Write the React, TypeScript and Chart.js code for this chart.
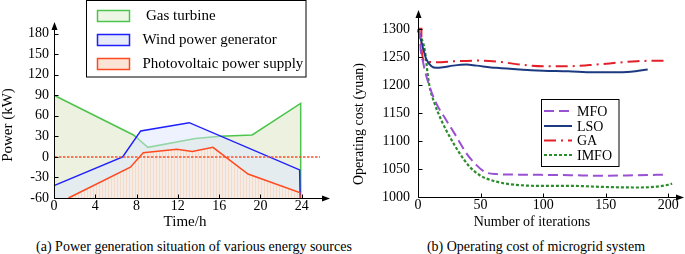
import React, { useEffect, useRef } from "react";
import { Chart, registerables } from "chart.js";

Chart.register(...registerables);

const FONT = "'Liberation Serif', 'Times New Roman', serif";

// ---------- Panel (a): power generation ----------
const hourTicks = [0, 4, 8, 12, 16, 20, 24];
const powerTicks = [-60, -30, 0, 30, 60, 90, 120, 150, 180];
const gasHours = [0, 7.7, 9.1, 13.7, 16.1, 19.2, 23.9, 23.9];
const gasPower = [90, 32, 14, 27, 30, 32, 78, -60];
const windHours = [0, 6.65, 8.4, 13.1, 23.8, 23.85];
const windPower = [-42, 0, 38, 50, -19, -60];
const pvHours = [1.4, 7.4, 8.65, 11.9, 13.4, 15.4, 18.8, 23.8, 23.85];
const pvPower = [-60, -15, 6, 11, 8, 14, -25, -52, -60];
const legendA = ["Gas turbine", "Wind power generator", "Photovoltaic power supply"];

// ---------- Panel (b): operating cost ----------
const iterTicks = [0, 50, 100, 150, 200];
const costTicks = [1000, 1050, 1100, 1150, 1200, 1250, 1300];
const mfoIter = [0, 1.5, 2.2, 4, 5.3, 9.3, 14.7, 22.7, 30.7, 38.7, 46.7, 53.3, 62.7, 81.3, 121, 148, 175, 198.7];
const mfoCost = [1300, 1290, 1262, 1242, 1228, 1197, 1167, 1137, 1108, 1078, 1057, 1045, 1041, 1040, 1039, 1038, 1039, 1040];
const lsoIter = [0, 1.3, 4, 6.7, 10.7, 14.7, 20, 28, 38.7, 46.7, 62.7, 81, 100, 120, 140, 155, 170, 183.5];
const lsoCost = [1297, 1290, 1266, 1246, 1234, 1231, 1232, 1235, 1237, 1235, 1231, 1228, 1226, 1225, 1223, 1223, 1224, 1228];
const gaIter = [0, 2.7, 2.8, 5.5, 14.7, 30.7, 49.3, 68, 81, 100, 121, 137, 153, 175, 199];
const gaCost = [1301, 1301, 1265, 1243, 1241, 1243, 1244, 1241, 1237, 1234, 1234, 1236, 1239, 1243, 1244];
const imfoIter = [0, 2.7, 5.4, 8, 9.3, 13.3, 18.7, 25.3, 33.3, 41.3, 49.3, 60, 73.3, 94.7, 121, 148, 174.7, 188, 200, 203];
const imfoCost = [1300, 1284, 1263, 1215, 1197, 1167, 1137, 1108, 1078, 1054, 1039, 1029, 1023, 1020, 1020, 1018, 1017, 1018, 1022, 1024];
const legendB = ["MFO", "LSO", "GA", "IMFO"];

const pts = (xs: number[], ys: number[]) => xs.map((x, i) => ({ x, y: ys[i] }));

type AxisCfg = {
  xTicks: number[];
  yTicks: number[];
  xTitle: string;
  yTitle: string;
  xTitleAt: [number, number];
  yTitleAt: [number, number];
  titleSize: number;
  tickSize: number;
  yLabelGap: number;
};

function drawAxes(chart: any, cfg: AxisCfg) {
  const { ctx, chartArea, scales } = chart;
  const { left, right, top, bottom } = chartArea;
  const xs = scales.x;
  const ys = scales.y;
  const ax = Math.round(left) + 0.5;
  const ay = Math.round(bottom) + 0.5;
  ctx.save();
  ctx.strokeStyle = "#000";
  ctx.fillStyle = "#000";
  ctx.lineWidth = 1;
  ctx.setLineDash([]);
  ctx.beginPath();
  ctx.moveTo(ax, ay);
  ctx.lineTo(ax, top + 5);
  ctx.moveTo(ax, ay);
  ctx.lineTo(right - 5, ay);
  ctx.stroke();
  // arrows
  ctx.beginPath();
  ctx.moveTo(ax, top);
  ctx.lineTo(ax - 3, top + 8);
  ctx.lineTo(ax + 3, top + 8);
  ctx.closePath();
  ctx.fill();
  ctx.beginPath();
  ctx.moveTo(right, ay);
  ctx.lineTo(right - 8, ay - 3);
  ctx.lineTo(right - 8, ay + 3);
  ctx.closePath();
  ctx.fill();
  // tick marks
  ctx.beginPath();
  cfg.yTicks.forEach((v) => {
    const py = Math.round(ys.getPixelForValue(v)) + 0.5;
    ctx.moveTo(ax, py);
    ctx.lineTo(ax + 4, py);
  });
  cfg.xTicks.forEach((v) => {
    const px = Math.round(xs.getPixelForValue(v)) + 0.5;
    ctx.moveTo(px, ay);
    ctx.lineTo(px, ay - 4);
  });
  ctx.stroke();
  // tick labels
  ctx.font = `${cfg.tickSize}px ${FONT}`;
  ctx.textBaseline = "middle";
  ctx.textAlign = "right";
  cfg.yTicks.forEach((v) => {
    ctx.fillText(String(v), left - cfg.yLabelGap, ys.getPixelForValue(v));
  });
  ctx.textAlign = "center";
  cfg.xTicks.forEach((v) => {
    ctx.fillText(String(v), xs.getPixelForValue(v), bottom + 8);
  });
  // titles
  ctx.font = `${cfg.titleSize}px ${FONT}`;
  ctx.fillText(cfg.xTitle, cfg.xTitleAt[0], cfg.xTitleAt[1]);
  ctx.save();
  ctx.translate(cfg.yTitleAt[0], cfg.yTitleAt[1]);
  ctx.rotate(-Math.PI / 2);
  ctx.fillText(cfg.yTitle, 0, 0);
  ctx.restore();
  ctx.restore();
}

function stripePattern(ctx: CanvasRenderingContext2D) {
  const c = document.createElement("canvas");
  c.width = 3;
  c.height = 3;
  const g = c.getContext("2d")!;
  g.fillStyle = "rgba(255,236,224,0.6)";
  g.fillRect(0, 0, 3, 3);
  g.fillStyle = "rgba(245,205,180,0.6)";
  g.fillRect(0, 0, 1, 3);
  return ctx.createPattern(c, "repeat");
}

function PanelA() {
  const ref = useRef<HTMLCanvasElement>(null);
  useEffect(() => {
    const canvas = ref.current!;
    const ctx = canvas.getContext("2d")!;
    const cfg: AxisCfg = {
      xTicks: hourTicks,
      yTicks: powerTicks,
      xTitle: "Time/h",
      yTitle: "Power (kW)",
      xTitleAt: [185, 222],
      yTitleAt: [8, 125],
      titleSize: 15,
      tickSize: 14,
      yLabelGap: 5,
    };
    const colors = ["#4cc54c", "#1e1eff", "#ff4a20"];
    const swatchFill = ["#eef6e6", "#e6ecf8", "#fbe4d6"];
    const plugin = {
      id: "axesA",
      afterDraw(chart: any) {
        const c = chart.ctx;
        const { left } = chart.chartArea;
        const y0 = Math.round(chart.scales.y.getPixelForValue(0));
        c.save();
        c.strokeStyle = "rgb(255,80,40)";
        c.lineWidth = 1.5;
        c.setLineDash([2.5, 1.5]);
        c.beginPath();
        c.moveTo(left + 1, y0);
        c.lineTo(320, y0);
        c.stroke();
        c.setLineDash([]);
        c.restore();

        drawAxes(chart, cfg);

        c.save();
        c.fillStyle = "#fff";
        c.strokeStyle = "#000";
        c.lineWidth = 1;
        c.fillRect(86.5, 0.5, 219.5, 76.5);
        c.strokeRect(86.5, 0.5, 219.5, 76.5);
        const rows = [10.5, 34.5, 58.5];
        const textX = [146, 142.5, 142.5];
        c.font = `15px ${FONT}`;
        c.textBaseline = "middle";
        c.textAlign = "left";
        legendA.forEach((lab, i) => {
          c.fillStyle = swatchFill[i];
          c.fillRect(97.5, rows[i], 32, 11);
          c.strokeStyle = colors[i];
          c.lineWidth = 1.5;
          c.strokeRect(97.5, rows[i], 32, 11);
          c.fillStyle = "#000";
          c.fillText(lab, textX[i], rows[i] + 6);
        });
        c.restore();
      },
    };
    const chart = new Chart(canvas, {
      type: "line",
      data: {
        datasets: [
          {
            label: legendA[0],
            data: pts(gasHours, gasPower),
            borderColor: colors[0],
            backgroundColor: "#edf2e0",
            fill: "start",
            borderWidth: 1.5,
            pointRadius: 0,
            tension: 0,
            order: 3,
            clip: false,
          },
          {
            label: legendA[1],
            data: pts(windHours, windPower),
            borderColor: colors[1],
            backgroundColor: "rgba(220,230,253,0.5)",
            fill: "start",
            borderWidth: 1.5,
            pointRadius: 0,
            tension: 0,
            order: 2,
            clip: false,
          },
          {
            label: legendA[2],
            data: pts(pvHours, pvPower),
            borderColor: colors[2],
            backgroundColor: stripePattern(ctx) as any,
            fill: "start",
            borderWidth: 1.5,
            pointRadius: 0,
            tension: 0,
            order: 1,
            clip: false,
          },
        ],
      },
      options: {
        animation: false,
        responsive: false,
        events: [],
        layout: { padding: { left: 54, top: 22, right: 10, bottom: 37 } },
        plugins: { legend: { display: false }, tooltip: { enabled: false } },
        scales: {
          x: { type: "linear", min: 0, max: 26.74, display: false },
          y: { type: "linear", min: -60, max: 197, display: false },
        },
      },
      plugins: [plugin],
    } as any);
    return () => chart.destroy();
  }, []);
  return (
    <canvas
      ref={ref}
      width={340}
      height={235}
      style={{ position: "absolute", left: 0, top: 0, width: 340, height: 235 }}
    />
  );
}

function PanelB() {
  const ref = useRef<HTMLCanvasElement>(null);
  useEffect(() => {
    const canvas = ref.current!;
    const cfg: AxisCfg = {
      xTicks: iterTicks,
      yTicks: costTicks,
      xTitle: "Number of iterations",
      yTitle: "Operating cost (yuan)",
      xTitleAt: [192, 222],
      yTitleAt: [19, 124],
      titleSize: 14,
      tickSize: 14,
      yLabelGap: 8,
    };
    const colors = ["#9a50d2", "#1c3a80", "#e3202a", "#2a8c2a"];
    const dashes = [[10, 5], [], [12, 5, 2, 5], [3, 2]];
    const plugin = {
      id: "axesB",
      afterDraw(chart: any) {
        drawAxes(chart, cfg);
        const c = chart.ctx;
        c.save();
        c.fillStyle = "#fff";
        c.strokeStyle = "#000";
        c.lineWidth = 1;
        c.fillRect(201.5, 99.5, 77.5, 67);
        c.strokeRect(201.5, 99.5, 77.5, 67);
        const rows = [111, 126, 140.5, 155];
        c.font = `14px ${FONT}`;
        c.textBaseline = "middle";
        c.textAlign = "left";
        legendB.forEach((lab, i) => {
          c.strokeStyle = colors[i];
          c.lineWidth = 2;
          c.setLineDash(dashes[i]);
          c.beginPath();
          c.moveTo(204, rows[i]);
          c.lineTo(232, rows[i]);
          c.stroke();
          c.setLineDash([]);
          c.fillStyle = "#000";
          c.fillText(lab, 237, rows[i] + 1);
        });
        c.restore();
      },
    };
    const series = [
      [mfoIter, mfoCost],
      [lsoIter, lsoCost],
      [gaIter, gaCost],
      [imfoIter, imfoCost],
    ];
    const chart = new Chart(canvas, {
      type: "line",
      data: {
        datasets: series.map(([xs, ys], i) => ({
          label: legendB[i],
          data: pts(xs, ys),
          borderColor: colors[i],
          borderDash: dashes[i],
          borderWidth: i === 3 ? 2.2 : 2,
          pointRadius: 0,
          cubicInterpolationMode: "monotone",
          fill: false,
          clip: false,
        })),
      },
      options: {
        animation: false,
        responsive: false,
        events: [],
        layout: { padding: { left: 78, top: 10, right: 4, bottom: 38 } },
        plugins: { legend: { display: false }, tooltip: { enabled: false } },
        scales: {
          x: { type: "linear", min: 0, max: 212.5, display: false },
          y: { type: "linear", min: 1000, max: 1334.5, display: false },
        },
      },
      plugins: [plugin],
    } as any);
    return () => chart.destroy();
  }, []);
  return (
    <canvas
      ref={ref}
      width={348}
      height={235}
      style={{ position: "absolute", left: 340, top: 0, width: 348, height: 235 }}
    />
  );
}

const captionStyle = (cx: number): React.CSSProperties => ({
  position: "absolute",
  left: cx,
  top: 238,
  transform: "translateX(-50%)",
  whiteSpace: "nowrap",
  fontFamily: FONT,
  fontSize: 14,
  lineHeight: "18px",
  color: "#000",
});

export default function App() {
  return (
    <div
      style={{
        position: "fixed",
        left: 0,
        top: 0,
        width: 685,
        height: 254,
        overflow: "hidden",
        background: "#fff",
      }}
    >
      <PanelA />
      <PanelB />
      <div style={captionStyle(194)}>(a) Power generation situation of various energy sources</div>
      <div style={captionStyle(536)}>(b) Operating cost of microgrid system</div>
    </div>
  );
}
